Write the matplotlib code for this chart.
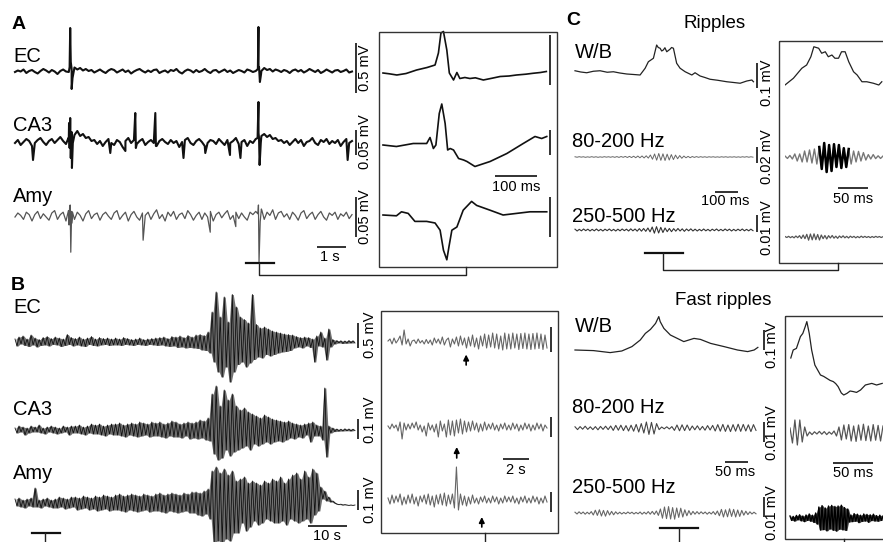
import numpy as np
import matplotlib
matplotlib.use("Agg")
import matplotlib.pyplot as plt
from matplotlib.patches import Rectangle

plt.rcParams['font.family'] = ['Liberation Sans', 'DejaVu Sans']

W, H = 883, 542

# ---------------- A: interictal spikes, all values in uV ----------------
a_dur = 11.6  # s
a_ec = [0, 15, 5, 25, -10, 10, 20, 0, -15, 10, 30, 15, -5, 20, 5, -20, 10, 25, 5, 0,
        30, 45, 25, 40, 15, 30, 10, 20, -5, 10,
        25, 5, -10, 15, 30, 20, -5, 10, 25, 0, 15, -15, 5, 20, 30, 10, -5, 15, 0, 20,
        25, -10, 5, 15, -5, 20, 10, 30, 0, -15, 10, 25, 15, -5, 20, 0, 10, 30, 5, -10,
        15, 20, -5, 10, 25, 0, 15, -10, 5, 20, 10, -5, 25, 15, 0, 10,
        35, 10, 40, 20, 30, 5, 25, 15, 0, 20,
        10, -10, 15, 25, 5, 20, -5, 10, 30, 15, 0, 20, -10, 5, 25, 10, -5, 15, 20, 0,
        10, 25, -5, 5]
a_ec_spk_t = [1.88, 1.90, 1.92, 1.95, 1.98, 8.36, 8.38, 8.40, 8.43, 8.47]
a_ec_spk_v = [50, 440, 100, -170, -60, 30, 450, 50, -100, -20]

a_ca3 = [0, 6, -4, 2, 8, 4, -6, 0, 6, 10, 2, -4, 4, 8, 0, 6, 12, 4, -2, 8,
         22, 16, 24, 14, 18, 10, 12, 4, 6, -2,
         4, -6, 2, 8, 0, -4, 6, 2, -8, 4, 10, 0, 6, -2, 4, 8, -4, 2, 6, 0,
         -6, 4, 8, 2, -2, 6, 0, 4, -8, 2, 6, 10, 0, -4, 4, 8, 2, -6, 0, 6,
         4, -2, 8, 2, -4, 6, 0, 4, 10, -2, 2, 6, -6, 4, 0, 8,
         20, 14, 18, 12, 16, 8, 10, 4, 6, 0,
         4, -4, 2, 8, 0, 6, -6, 2, 4, 10, 0, -4, 6, 2, 8, -2, 4, 0, 6, -6,
         2, 8, 0, 4]
a_ca3_spk_t = [0.62, 1.84, 1.86, 1.88, 1.90, 1.92, 1.94, 1.96, 1.99, 3.28, 3.80,
               4.14, 4.16, 4.83, 4.85, 5.80, 6.55, 7.40, 7.76,
               8.35, 8.38, 8.40, 8.42, 8.46, 11.45]
a_ca3_spk_v = [-34, 10, 40, -10, 50, -30, 20, -50, 0, -20, -16,
               60, -10, 60, -6, -30, -20, -24, -30,
               10, 82, 10, -44, 0, -34]

a_amy = [0, 5, 2, -3, 6, 3, -5, 3, 7, -2, 4, 0, -4, 5, 8, -3, 3, 6, -5, 2,
         7, -3, 6, 2, -5, 4, 8, -2, 3, 5,
         -4, 3, 6, 1, -3, 5, 8, -3, 2, 6, -5, 3, 7, 0, -4, 5, 2, 6, -3, 4,
         9, -2, 3, -5, 6, 1, 7, -3, 3, 5, -2, 8, 3, -4, 2, 6, -3, 5, 0, 7,
         -5, 3, 6, -1, 4, 8, -3, 2, 6, -2, 5, 0, -4, 6, 3, 7,
         3, 10, -3, 6, 2, 9, -3, 5, 7, 0,
         4, -3, 6, 2, -4, 5, 8, -2, 3, 6, -3, 3, 7, 0, -4, 5, 2, 6, -3, 4,
         1, 6, -2, 3]
a_amy_spk_t = [1.84, 1.86, 1.88, 1.90, 1.92, 1.95, 1.98, 4.41, 6.72, 7.60,
               8.36, 8.38, 8.40, 8.44, 8.50]
a_amy_spk_v = [8, -10, 12, 15, -44, -8, 6, -29, -19, -12, 4, 15, -56, -6, 8]

# A inset, one spike expanded (ms, uV)
ai_ec_t = [0, 15, 33, 55, 80, 105, 124, 132, 138, 144, 152, 158, 168, 176, 183,
           195, 207, 220, 239, 260, 279, 300, 318, 340, 357, 375, 389]
ai_ec_v = [0, -8, -20, -5, 30, 55, 80, 200, 400, 415, 230, 0, -70, 5, -55,
           -45, -55, -48, -70, -52, -35, -30, -20, -12, -3, 5, 15]
ai_ca3_t = [0, 32, 72, 104, 112, 120, 126, 134, 140, 148, 154, 160, 168, 180,
            192, 200, 219, 255, 295, 334, 362, 378, 390]
ai_ca3_v = [0, -3, 3, 3, 15, -7, 0, 63, 82, 43, -10, -7, -10, -27,
            -30, -33, -43, -33, -17, 3, 17, 13, 17]
ai_amy_t = [0, 32, 44, 60, 76, 104, 124, 136, 144, 152, 157, 164, 176, 191,
            211, 223, 255, 286, 318, 350, 390]
ai_amy_v = [0, -1, 4, 2, -8, -8, -10, -19, -44, -56, -40, -19, -15, 6,
            17, 12, 6, 0, 2, 4, 4]

# ---------------- B: seizure (uV) ----------------
b_dur = 87.2  # s
b_ec = [60, -80, 100, -40, 120, -70, 60, -90, 140, -60,
        80, -100, 50, -70, 90, -60, 110, -80, 70, -50,
        100, -60, 80, -90, 60, -70, 150, -50, 90, -80,
        70, -60, 100, -80, 60, -90, 80, -50, 110, -70,
        60, -80, 90, -60, 70, -50, 80, -70, 60, -60,
        80, -60, 60, -70, 90, -50, 70, -60, 50, -70,
        60, -50, 80, -60, 50, -70, 60, -50, 70, -60,
        80, -70, 90, -60, 100, -80, 70, -90, 110, -80,
        100, -110, 120, -100, 90, -120, 130, -110, 100, -120,
        140, -130, 150, -160, 130, -170, 200, -220, 600, -400,
        1000, -600, 500, -700, 900, -500, 400, -800, 950, -600,
        700, -450, 500, -400, 450, -500, 380, -420, 950, -350,
        350, -300, 280, -320, 300, -250, 260, -280, 220, -250,
        200, -220, 180, -200, 160, -190, 150, -170, 140, -120,
        110, -100, 90, -120, 100, -80, 90, -110, 60, -400,
        120, -80, 200, -100, 80, -360, 260, -100, 50, -40,
        30, -20, 25, -30, 20, -25, 30, -20, 25, -20]
b_ca3 = [10, -15, 20, -10, 15, -25, 10, -15, 20, -10,
         15, -10, 25, -15, 10, -20, 15, -10, 20, -15,
         15, -20, 10, -15, 20, -10, 15, -25, 20, -15,
         20, -15, 25, -20, 15, -25, 20, -15, 30, -20,
         25, -20, 30, -25, 20, -30, 25, -20, 30, -25,
         30, -25, 35, -30, 25, -35, 30, -25, 35, -30,
         30, -35, 40, -30, 35, -25, 30, -35, 40, -30,
         35, -30, 40, -35, 30, -40, 35, -30, 45, -35,
         40, -35, 30, -40, 35, -30, 40, -45, 35, -40,
         40, -45, 50, -40, 45, -50, 60, -55, 180, -120,
         220, -150, 120, -140, 200, -100, 150, -130, 180, -110,
         120, -100, 100, -90, 110, -80, 90, -100, 80, -70,
         70, -80, 60, -70, 75, -60, 65, -70, 55, -60,
         50, -55, 45, -60, 40, -50, 45, -40, 35, -45,
         30, -35, 25, -40, 30, -25, 35, -60, 40, -30,
         25, -30, 20, -50, 210, -135, 20, -15, 10, -8,
         5, -6, 4, -5, 6, -4, 5, -5, 4, -3]
b_amy = [20, -15, 25, -20, 15, -25, 20, -15, 25, -20,
         75, -20, 15, -25, 20, -15, 25, -20, 15, -25,
         20, -25, 30, -20, 25, -30, 20, -25, 30, -20,
         30, -35, 25, -30, 35, -25, 30, -35, 25, -30,
         35, -40, 30, -35, 40, -30, 35, -40, 30, -35,
         40, -35, 45, -40, 35, -45, 40, -35, 45, -40,
         40, -45, 35, -40, 45, -35, 40, -45, 35, -40,
         45, -40, 50, -45, 40, -50, 45, -40, 50, -45,
         45, -50, 40, -45, 50, -40, 45, -50, 55, -50,
         55, -60, 50, -65, 60, -55, 70, -80, 160, -200,
         180, -190, 150, -200, 170, -180, 140, -190, 160, -150,
         110, -150, 120, -100, 130, -140, 100, -120, 110, -90,
         100, -110, 90, -100, 110, -80, 100, -90, 120, -100,
         110, -100, 130, -90, 100, -110, 120, -80, 140, -90,
         150, -100, 120, -90, 160, -80, 130, -100, 170, -60,
         150, -40, 80, 20, 60, 10, 30, 5, 10, 0,
         -5, -8, -6, -10, -8, -10, -12, -10, -12, -10]

# B inset, seizure onset (uV)
bi_dur = 11.8  # s
bi_ec = [20, 60, -40, 80, -20, 40, 120, -60, 240, -40,
         60, -80, 20, 40, -30, 60, -20, 30, -40, 50,
         -30, 40, -60, 80, -20, 60, -40, 100, -60, 40,
         80, -100, 60, -40, 100, -80, 120, -60, 80, -120,
         100, -80, 140, -100, 80, -140, 120, -80, 160, -120,
         140, -100, 180, -120, 160, -140, 120, -160, 180, -140,
         160, -140, 180, -120, 160, -150, 170, -130, 180, -140,
         160, -150, 170, -140, 180, -130, 160, -150, 140, -120]
bi_ca3 = [5, -10, 15, -5, 10, -20, 25, -60, 20, -15,
          15, -10, 20, -5, 25, -15, 10, -25, 5, -45,
          20, -15, 10, -25, 15, -50, 30, -20, 15, -50,
          35, -40, 30, -45, 35, -30, 40, -35, 30, -25,
          25, -20, 30, -15, 20, -25, 15, -20, 25, -15,
          15, -10, 20, -15, 10, -20, 15, -10, 20, -15,
          10, -15, 20, -10, 15, -20, 10, -15, 20, -10,
          15, -20, 10, -15, 20, -10, 15, -20, 10, -5]
bi_amy = [10, -20, 25, -15, 20, -10, 30, -25, 15, -20,
          25, -15, 30, -20, 15, -30, 20, -10, 25, -20,
          30, -25, 20, -35, 25, -20, 30, -25, 35, -30,
          25, -20, 30, -40, 165, -50, 30, -25, 20, -30,
          15, -20, 25, -15, 10, -20, 15, -10, 20, -15,
          10, -15, 20, -10, 15, -20, 10, -15, 20, -10,
          15, -10, 20, -15, 10, -20, 15, -10, 20, -15,
          10, -15, 20, -10, 15, -20, 10, -15, 20, -10]
bi_arrow_t = [5.8, 5.1, 6.96]  # s, arrows under onset

# ---------------- C: ripples (ms, uV) ----------------
cr_dur = 774
cr_wb_t = [0, 25, 51, 80, 109, 140, 167, 195, 225, 255, 283, 305, 319, 341, 355,
           362, 370, 377, 384, 391, 399, 406, 413, 420, 428, 442, 457, 479, 508,
           522, 544, 565, 587, 620, 660, 690, 718, 747, 769, 776]
cr_wb_v = [5, 0, -3, 3, 5, -1, 1, -4, -8, -10, -12, 15, 41, 55, 108,
           98, 95, 84, 88, 97, 81, 86, 91, 98, 95, 35, 15, 1, -12,
           -3, -16, -22, -29, -33, -39, -42, -45, -36, -32, -39]
cr_rip = [0.3, -0.3, 0.4, -0.2, 0.3, -0.4, 0.2, -0.3, 0.4, -0.3,
          0.3, -0.4, 0.2, -0.3, 0.4, -0.2, 0.3, -0.3, 0.4, -0.4,
          0.5, -0.5, 0.6, -0.4, 0.7, -0.6, 0.8, -0.7, 1.0, -0.9,
          1.2, -1.0, 1.3, -1.2, 1.5, -1.4,
          2.5, -2.8, 3.8, -4.0, 4.4, -4.2, 4.0, -4.4, 3.6, -3.8, 3.0, -3.2, 2.4, -2.2, 1.8, -1.6,
          1.2, -1.0, 0.8, -0.9, 0.6, -0.5, 0.5, -0.4, 0.4, -0.3,
          0.3, -0.4, 0.3, -0.2, 0.3, -0.3, 0.2, -0.3, 0.3, -0.2,
          0.3, -0.3, 0.2, -0.2, 0.3, -0.3, 0.2, -0.3, 0.3, -0.2,
          0.4, -0.3, 0.3, -0.2]
cr_fr = [0.5, -0.6, 0.4, -0.5, 0.6, -0.4, 0.5, -0.6, 0.4, -0.5,
         0.6, -0.5, 0.4, -0.6, 0.5, -0.4, 0.6, -0.5, 0.4, -0.6,
         0.5, -0.5, 0.6, -0.4, 0.5, -0.6, 0.7, -0.5, 0.6, -0.7,
         0.8, -0.7, 0.9, -0.8, 1.2, -1.1,
         1.8, -1.9, 2.0, -1.8, 1.6, -1.5, 1.2, -1.0, 0.9, -1.0,
         0.8, -0.7, 0.9, -0.6, 0.7, -0.8,
         0.6, -0.5, 0.7, -0.6, 0.5, -0.6,
         0.4, -0.5, 0.6, -0.5, 0.4, -0.6, 0.5, -0.4, 0.6, -0.5, 0.4, -0.5,
         0.6, -0.4, 0.5, -0.6, 0.4, -0.5, 0.5, -0.4, 0.6, -0.5, 0.4, -0.5, 0.5, -0.4]

cri_dur = 163
cri_wb_t = [0, 14, 28, 36, 43, 48, 56, 61, 67, 72, 78, 83, 89, 94, 100, 106,
            114, 120, 128, 136, 147, 156, 161]
cri_wb_v = [0, 27, 67, 80, 113, 153, 147, 127, 133, 113, 120, 107, 107, 133, 133, 93,
            53, 40, 13, 13, 7, 0, 13]
cri_rip = [1.2, -1.8, 1.9, -2.5, 3.8, -5.0, 3.8, -6.2, 7.5, -6.2, 8.8, -7.5, 10, -8.8,
           12.5, -15, 17.5, -18.8, 15, -17.5, 16, -12.5, 15, -13.8, 11, -12.5, 10,
           -8.8, 7.5, -6.2, 7, -5, 5.5, -3.8, 3, -2.5, 3, -2, 1.5, -1.8, 1.2]
cri_rip_peak = (14, 27)  # index range drawn in black
cri_fr = [0.3, -0.3, 0.4, -0.4, 0.3, -0.5, 0.6, -0.4, 0.8, -0.9, 1.2, -1.0,
          1.6, -1.9, 1.8, -1.7, 1.9, -1.6, 1.5, -1.8, 1.2, -1.0, 0.9, -1.2,
          0.8, -0.6, 0.9, -0.7, 0.5, -0.8, 0.6, -0.4, 0.7, -0.5, 0.4, -0.6, 0.5, -0.3,
          0.4, -0.5, 0.3, -0.4, 0.5, -0.3, 0.4, -0.3, 0.3, -0.4, 0.3, -0.3, 0.4, -0.2,
          0.3, -0.3, 0.2]

# ---------------- C: fast ripples (ms, uV) ----------------
cf_dur = 391
cf_wb_t = [0, 40, 76, 101, 123, 141, 152, 163, 174, 181, 184, 192, 206, 221, 235,
           257, 271, 293, 322, 351, 373, 387, 395]
cf_wb_v = [5, 2, -8, 0, 22, 55, 88, 108, 138, 172, 147, 113, 80, 63, 47,
           63, 58, 38, 22, 5, -3, 5, 18]
cf_rip = [0.6, -0.8, 0.7, -0.6, 0.9, -0.7, 0.6, -0.8, 0.7, -0.9, 0.8, -0.7, 0.9, -0.8,
          1.0, -1.2, 1.3, -1.1, 1.4, -1.3, 1.2, -1.5, 1.4, -1.6, 1.8,
          -2.0, 2.2, -2.5,
          3.0, -3.2, 2.8, -3.0, 2.2,
          -0.8, 0.5, -0.4, 0.6, -0.5, 0.7,
          -1.2, 1.5, -1.4, 1.6, -1.3, 1.5, -1.2, 1.0,
          -0.9, 1.1, -1.0, 0.8, -1.1, 1.2, -1.0, 1.3,
          -1.5, 1.7, -1.6, 1.8, -1.7, 1.5, -1.8, 1.7, -1.6, 1.9, -1.7, 1.8, -1.5, 1.6,
          -1.8, 1.7, -1.2]
cf_fr = [0.4, -0.5, 0.6, -0.4, 0.5, -0.6, 0.4, -0.5, 0.7,
         -1.0, 1.4, -1.2, 1.6, -1.5, 1.3, -1.6, 1.2, -1.0, 0.8, -0.9, 0.6, -0.5,
         0.4, -0.5, 0.3, -0.4, 0.5, -0.3, 0.4, -0.5, 0.3, -0.4,
         0.5, -0.6, 0.4, -0.5, 0.7, -0.6, 0.8, -0.7, 1.0, -1.2,
         2.0, -2.6, 3.0, -2.8, 3.2, -3.0, 2.7, -3.1, 2.5, -2.2, 2.4, -2.0, 1.6, -1.4, 1.2,
         -0.9, 0.8, -0.6, 0.7, -0.5, 0.6, -0.4, 0.5, -0.6, 0.4, -0.5, 0.7, -0.8, 1.0,
         -1.4, 1.8, -2.0, 1.6, -1.9, 2.1, -1.7, 1.8, -2.0, 1.5, -1.7, 1.3, -1.1, 0.9, -0.8, 0.6,
         -0.5, 0.4, -0.4]

cfi_dur = 116
cfi_wb_t = [1, 4, 8, 13, 16, 19, 21, 24, 27, 31, 38, 42, 46, 50, 54, 57, 60, 64,
            67, 71, 75, 79, 83, 88, 94, 102, 108, 115]
cfi_wb_v = [0, 40, 48, 107, 123, 157, 182, 123, 40, -35, -85, -92, -102, -112, -118,
            -128, -143, -175, -185, -177, -165, -168, -172, -160, -135, -127, -135, -127]
cfi_rip = [2.5, -5, 6.5, -6, 6.5, -4.5, 3, -1.5,
           0.5, -0.8, 0.6, -0.5, 0.8, -0.6, 0.7, -0.8, 0.5, -0.6, 1.0, -1.5,
           3, -3.5, 4, -3, 4.2, -4, 3.5, -4.2, 4, -3.6, 4.4, -3.8, 3.5, -4, 4.2, -3.6,
           3.8, -4, 3.5]
cfi_fr = [1.0, -1.2, 0.8, -1.5, 1.3, -0.9, 1.6, -1.4, 1.0, -1.8, 1.5, -1.2, 2.0, -1.6,
          1.4, -2.2, 2.5, -3.0,
          5.5, -6.0, 6.2, -5.8, 5.0, -6.4, 6.0, -5.5, 6.3, -6.1, 5.8, -6.5, 6.0, -5.6,
          6.4, -5.9, 5.2, -6.2, 4.5,
          -2.0, 1.5, -1.8, 2.2, -1.6, 1.9, -2.3, 1.4, -1.7, 2.0, -1.5, 1.8, -2.1, 1.6,
          -1.3, 1.9, -1.5, 1.2, -1.6, 1.4, -1.2, 1.0]


fig = plt.figure(figsize=(W / 100, H / 100), dpi=100)


def trace_ax(x0, x1, yb, xmax, f, half=70):
    # axes placed by pixel box; f = uV per pixel
    ax = fig.add_axes([x0 / W, 1 - (yb + half) / H, (x1 - x0) / W, 2 * half / H])
    ax.set_xlim(0, xmax)
    ax.set_ylim(-half * f, half * f)
    ax.axis('off')
    return ax


def with_spikes(bg, dur, spk_t, spk_v):
    t = np.concatenate([np.linspace(0, dur, len(bg)), spk_t])
    v = np.concatenate([bg, spk_v])
    order = np.argsort(t, kind='stable')
    return t[order], v[order]


def even(v, dur):
    return np.linspace(0, dur, len(v)), np.asarray(v, float)


def dense(ax, t, v, color, alpha, lw):
    # a dense recording: shade the sweep between neighbouring samples, then the trace
    tm = (t[:-1] + t[1:]) / 2
    ax.fill_between(tm, np.minimum(v[:-1], v[1:]), np.maximum(v[:-1], v[1:]),
                    color=color, alpha=alpha, lw=0, clip_on=False)
    ax.plot(t, v, color=color, lw=lw, clip_on=False)


def vbar(ax, t, lo, length):
    ax.plot([t, t], [lo, lo + length], color='#222', lw=1.3, clip_on=False,
            solid_capstyle='butt')


def hbar(ax, t0, length, v):
    ax.plot([t0, t0 + length], [v, v], color='#222', lw=1.3, clip_on=False,
            solid_capstyle='butt')


# ---- A main
ax_aec = trace_ax(15, 352, 72, a_dur, 10)
ax_aca3 = trace_ax(15, 352, 143, a_dur, 2)
ax_aamy = trace_ax(15, 352, 217, a_dur, 1.25)
ax_aec.plot(*with_spikes(a_ec, a_dur, a_ec_spk_t, a_ec_spk_v), color='#111', lw=1.5, clip_on=False)
ax_aca3.plot(*with_spikes(a_ca3, a_dur, a_ca3_spk_t, a_ca3_spk_v), color='#111', lw=1.5, clip_on=False)
ax_aamy.plot(*with_spikes(a_amy, a_dur, a_amy_spk_t, a_amy_spk_v), color='#555', lw=0.9, clip_on=False)
vbar(ax_aec, 11.74, -210, 500)
vbar(ax_aca3, 11.74, -23, 50)
vbar(ax_aamy, 11.74, -25, 50)
hbar(ax_aamy, 10.38, 1, -37.5)

# ---- A inset
ax_iec = trace_ax(383, 548, 73, 393, 10)
ax_ica3 = trace_ax(383, 548, 145, 393, 2)
ax_iamy = trace_ax(383, 548, 215, 393, 1.25)
ax_iec.plot(ai_ec_t, ai_ec_v, color='#111', lw=1.2, clip_on=False)
ax_ica3.plot(ai_ca3_t, ai_ca3_v, color='#111', lw=1.2, clip_on=False)
ax_iamy.plot(ai_amy_t, ai_amy_v, color='#111', lw=1.2, clip_on=False)
vbar(ax_iec, 397, -120, 500)
vbar(ax_ica3, 397, -20, 50)
vbar(ax_iamy, 397, -27.5, 50)
hbar(ax_ica3, 266.6, 100, -62)

# ---- B main
ax_bec = trace_ax(15, 355, 342, b_dur, 20)
ax_bca3 = trace_ax(15, 355, 430, b_dur, 5)
ax_bamy = trace_ax(15, 355, 503, b_dur, 5)
for ax, v in [(ax_bec, b_ec), (ax_bca3, b_ca3), (ax_bamy, b_amy)]:
    dense(ax, *even(v, b_dur), color='#111', alpha=0.6, lw=0.6)
vbar(ax_bec, 87.9, -120, 500)
vbar(ax_bca3, 87.9, -45, 100)
vbar(ax_bamy, 87.9, -35, 100)
hbar(ax_bamy, 75.1, 10, -115)

# ---- B inset
ax_biec = trace_ax(388, 547, 342, bi_dur, 20)
ax_bica3 = trace_ax(388, 547, 427, bi_dur, 5)
ax_biamy = trace_ax(388, 547, 500, bi_dur, 5)
arrow_v = [(-460, -250), (-155, -100), (-135, -85)]
for ax, v, ta, (v0, v1) in zip([ax_biec, ax_bica3, ax_biamy], [bi_ec, bi_ca3, bi_amy],
                               bi_arrow_t, arrow_v):
    ax.plot(*even(v, bi_dur), color='#666', lw=0.8, clip_on=False)
    ax.annotate('', xy=(ta, v1), xytext=(ta, v0),
                arrowprops=dict(arrowstyle='-|>', color='black', lw=1.2,
                                mutation_scale=8, shrinkA=0, shrinkB=0))
vbar(ax_biec, 12.06, -200, 500)
vbar(ax_bica3, 12.06, -50, 100)
vbar(ax_biamy, 12.06, -60, 100)
hbar(ax_bica3, 8.5, 2, -160)

# ---- C ripples
ax_crw = trace_ax(575, 753, 72, cr_dur, 4)
ax_crr = trace_ax(575, 753, 157, cr_dur, 1.25)
ax_crf = trace_ax(575, 753, 230, cr_dur, 0.6)
ax_crw.plot(cr_wb_t, cr_wb_v, color='#222', lw=0.9, clip_on=False)
ax_crr.plot(*even(cr_rip, cr_dur), color='#666', lw=0.7, clip_on=False)
ax_crf.plot(*even(cr_fr, cr_dur), color='#333', lw=0.8, clip_on=False)
vbar(ax_crw, 792, -64, 100)
vbar(ax_crr, 792, -7.5, 20)
vbar(ax_crf, 792, -1.2, 10)
hbar(ax_crr, 609, 100, -43.75)

ax_criw = trace_ax(785, 883, 85, cri_dur, 4)
ax_crir = trace_ax(785, 883, 157, cri_dur, 1.25)
ax_crif = trace_ax(785, 883, 237, cri_dur, 0.6)
ax_criw.plot(cri_wb_t, cri_wb_v, color='#222', lw=0.9)
t, v = even(cri_rip, cri_dur)
i0, i1 = cri_rip_peak
ax_crir.plot(t, v, color='#777', lw=1.0)
ax_crir.plot(t[i0:i1], v[i0:i1], color='black', lw=1.8)
ax_crif.plot(*even(cri_fr, cri_dur), color='#555', lw=0.9)
hbar(ax_crir, 88, 50, -39)

# ---- C fast ripples
ax_cfw = trace_ax(575, 756, 351, cf_dur, 5)
ax_cfr = trace_ax(575, 756, 428, cf_dur, 0.5)
ax_cff = trace_ax(575, 756, 513, cf_dur, 0.5)
ax_cfw.plot(cf_wb_t, cf_wb_v, color='#222', lw=0.9, clip_on=False)
ax_cfr.plot(*even(cf_rip, cf_dur), color='#444', lw=0.8, clip_on=False)
ax_cff.plot(*even(cf_fr, cf_dur), color='#666', lw=0.8, clip_on=False)
vbar(ax_cfw, 408, 5, 100)
vbar(ax_cfr, 408, -7, 10)
vbar(ax_cff, 408, -2, 10)
hbar(ax_cfr, 323, 50, -17)

ax_cfiw = trace_ax(790, 883, 358, cfi_dur, 5)
ax_cfir = trace_ax(790, 883, 433, cfi_dur, 0.5)
ax_cfif = trace_ax(790, 883, 518, cfi_dur, 0.5)
ax_cfiw.plot(cfi_wb_t, cfi_wb_v, color='#222', lw=0.9)
ax_cfir.plot(*even(cfi_rip, cfi_dur), color='#555', lw=0.9)
dense(ax_cfif, *even(cfi_fr, cfi_dur), color='black', alpha=0.75, lw=1.0)
hbar(ax_cfir, 54, 50, -14.8)

# ---- overlay in pixel space: frames, links, text
ov = fig.add_axes([0, 0, 1, 1])
ov.set_xlim(0, W)
ov.set_ylim(H, 0)
ov.axis('off')

for (x, y, w, h) in [(379, 32, 178, 235), (381, 311, 177, 222),
                     (779, 41, 200, 222), (785, 316, 200, 223)]:
    ov.add_patch(Rectangle((x, y), w, h, fill=False, ec='#333', lw=1.0))

link = dict(color='#222', lw=1.0)
bar = dict(color='#111', lw=1.6)
ov.plot([246, 274], [263, 263], **bar)
ov.plot([259, 259, 466, 466], [263, 275, 275, 267], **link)
ov.plot([645, 683], [253, 253], **bar)
ov.plot([663, 663, 838, 838], [253, 270, 270, 263], **link)
ov.plot([32, 60], [533, 533], **bar)
ov.plot([45, 45], [533, 542], **link)
ov.plot([485, 485], [533, 542], **link)
ov.plot([660, 698], [528, 528], **bar)
ov.plot([679, 679], [528, 542], **link)
ov.plot([844, 844], [539, 542], **link)

lab = dict(fontsize=14.5, va='baseline', ha='left')
for x, y, s in [(13, 62, 'EC'), (13, 131, 'CA3'), (13, 202, 'Amy'),
                (13, 313, 'EC'), (13, 415, 'CA3'), (13, 479, 'Amy'),
                (575, 58, 'W/B'), (572, 147, '80-200 Hz'), (572, 222, '250-500 Hz'),
                (575, 332, 'W/B'), (572, 413, '80-200 Hz'), (572, 493, '250-500 Hz')]:
    ov.text(x, y, s, **lab)

for x, y, s in [(12, 29, 'A'), (11, 290, 'B'), (566, 25, 'C')]:
    ov.text(x, y, s, fontsize=14, fontweight='bold', va='baseline', ha='left')

ov.text(715, 28, 'Ripples', fontsize=13.5, ha='center', va='baseline')
ov.text(723, 305, 'Fast ripples', fontsize=13.5, ha='center', va='baseline')

sc = dict(fontsize=10.5, ha='center', va='center')
for x, y, s in [(330, 257, '1 s'), (516, 187, '100 ms'), (327, 536, '10 s'),
                (516, 470, '2 s'), (725, 201, '100 ms'), (853, 199, '50 ms'),
                (735, 472, '50 ms'), (853, 473, '50 ms')]:
    ov.text(x, y, s, **sc)

for x, y, s in [(365, 68, '0.5 mV'), (365, 142, '0.05 mV'), (365, 217, '0.05 mV'),
                (370, 335, '0.5 mV'), (370, 420, '0.1 mV'), (370, 500, '0.1 mV'),
                (767, 83, '0.1 mV'), (767, 157, '0.02 mV'), (767, 228, '0.01 mV'),
                (772, 345, '0.1 mV'), (772, 433, '0.01 mV'), (772, 513, '0.01 mV')]:
    ov.text(x, y, s, rotation=90, **sc)

fig.savefig('out.png', dpi=100)
